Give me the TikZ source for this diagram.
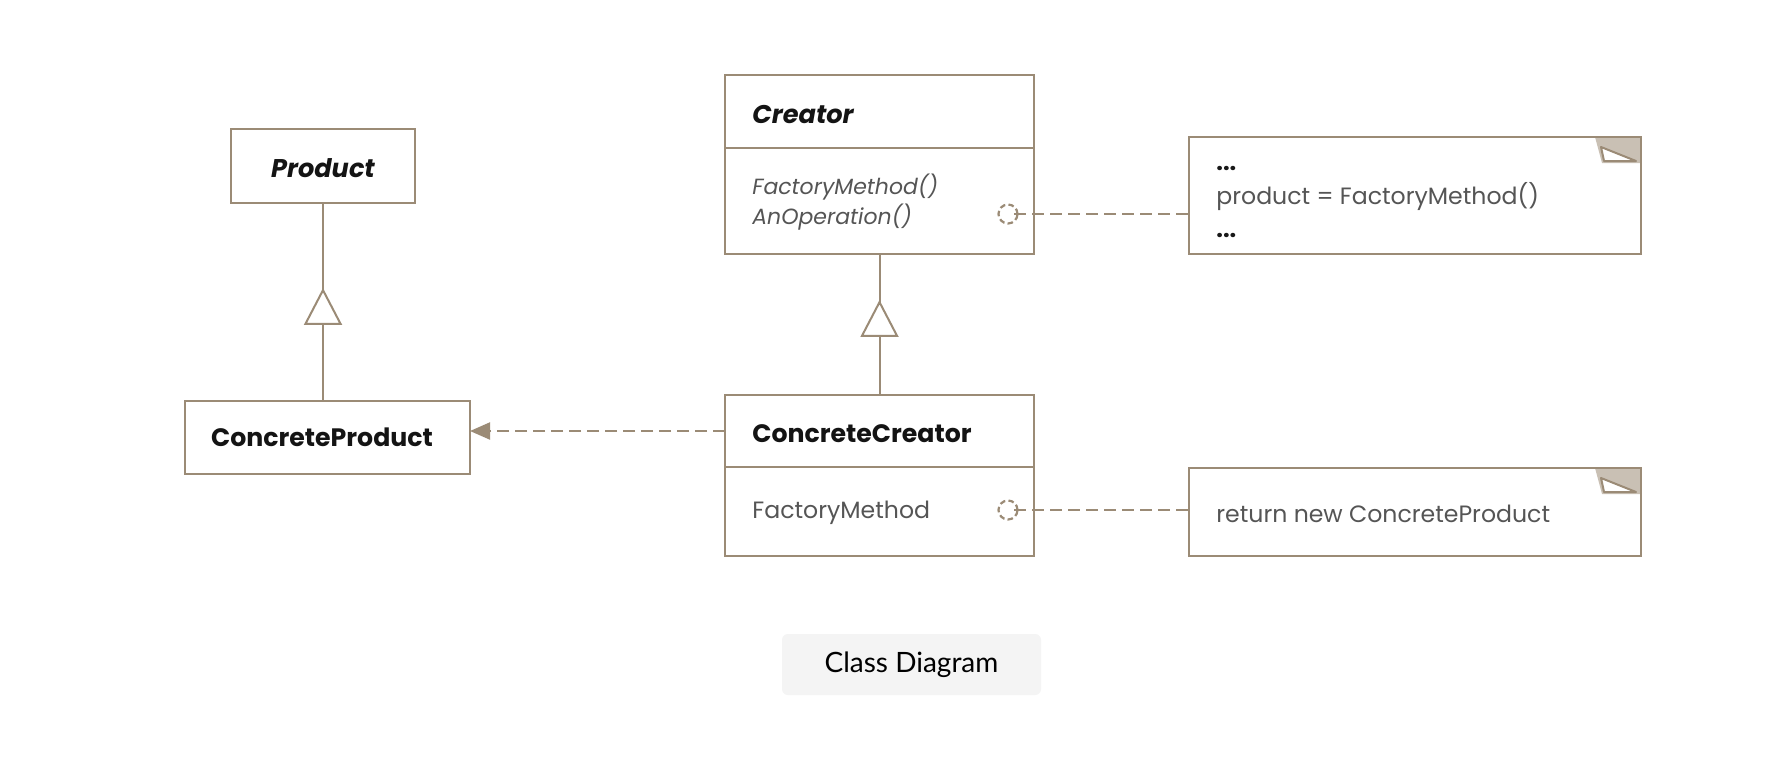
\documentclass[tikz,border=0pt]{standalone}
\usepackage{fontspec}
\setmainfont{Poppins}
\newfontfamily\btnfont{Lato}
\usetikzlibrary{arrows.meta,decorations.markings}
\definecolor{ln}{HTML}{9B8B76}
\definecolor{foldc}{HTML}{C9C0B4}
\definecolor{txt}{HTML}{555555}
\definecolor{btnc}{HTML}{F4F4F4}
\begin{document}
\begin{tikzpicture}[x=0.5pt,y=-0.5pt,
  box/.style={draw=ln, line width=1.4pt, fill=white, rectangle, inner sep=0pt, outer sep=0pt},
  ttl/.style={inner sep=0pt, text=black!92, font=\fontsize{12.6}{15}\selectfont\bfseries},
  ttli/.style={inner sep=0pt, text=black!92, font=\fontsize{12.8}{15}\selectfont\bfseries\itshape},
  mth/.style={inner sep=0pt, text=txt, font=\fontsize{11}{13}\selectfont\itshape},
  mtx/.style={inner sep=0pt, text=txt, font=\fontsize{11.8}{14}\selectfont},
  conn/.style={draw=ln, line width=1pt},
  dsh/.style={conn, dash pattern=on 6pt off 3pt},
  ring/.style={circle, draw=ln, line width=1.1pt, dash pattern=on 2.8pt off 1.6pt, minimum size=9.5pt, inner sep=0pt},
  gen/.style={postaction={decorate}, decoration={markings, mark=at position #1 with {\arrow{Triangle[length=18.5pt, width=19pt, fill=white, line width=1pt]}}}}
]
\useasboundingbox (0,0) rectangle (1786,760);
\fill[white] (0,0) rectangle (1786,760);

% class boxes
\node[box, minimum width=92pt, minimum height=37pt] (P) at (323,166) {};
\node[box, minimum width=142.5pt, minimum height=36.5pt] (CP) at (327.5,437.5) {};
\node[box, minimum width=154.5pt, minimum height=36.5pt] (Chead) at (879.5,111.5) {};
\node[box, minimum width=154.5pt, minimum height=53pt] (Cbody) at (879.5,201) {};
\node[box, minimum width=154.5pt, minimum height=36pt] (CChead) at (879.5,431) {};
\node[box, minimum width=154.5pt, minimum height=44.5pt] (CCbody) at (879.5,511.5) {};

% notes
\node[box, minimum width=226pt, minimum height=58.5pt] (N1) at (1415,195.5) {};
\node[box, minimum width=226pt, minimum height=44pt] (N2) at (1415,512) {};
\foreach \n in {N1,N2}{
  \fill[foldc] ([xshift=-23pt]\n.north east) -- (\n.north east) -- ([yshift=-13pt]\n.north east) -- ([xshift=-19.5pt,yshift=-13pt]\n.north east) -- cycle;
  \filldraw[fill=white, draw=ln, line width=1pt, line join=round] ([xshift=-20pt,yshift=-5pt]\n.north east) -- ([xshift=-18.5pt,yshift=-12pt]\n.north east) -- ([xshift=-2.5pt,yshift=-12pt]\n.north east) -- cycle;
  \draw[ln, line width=1.4pt] (\n.south west) rectangle (\n.north east);
}

% texts
\node[ttli, anchor=base] at (323,177) {Product};
\node[ttl, anchor=base] at (322,446) {ConcreteProduct};
\node[ttli, anchor=base west] at (752,123) {Creator};
\node[mth, anchor=base west] at (752,194) {FactoryMethod()};
\node[mth, anchor=base west] at (752,224) {AnOperation()};
\node[ttl, anchor=base west] at (752,442) {ConcreteCreator};
\node[mtx, anchor=base west] at (752,518) {FactoryMethod};
\node[mtx, anchor=base west, text=black!90] at (1216,170) {\textbf{...}};
\node[mtx, anchor=base west] at (1216,204) {product = FactoryMethod()};
\node[mtx, anchor=base west, text=black!90] at (1216,237) {\textbf{...}};
\node[mtx, anchor=base west] at (1216,522) {return new ConcreteProduct};

% rings
\node[ring] (O1) at (1008,214) {};
\node[ring] (O2) at (1008,510) {};

% connectors
\draw[conn, gen=0.571] (CP.north -| P.south) -- (P.south);
\draw[conn, gen=0.674] (CChead.north) -- (Cbody.south);
\draw[dsh, -{Triangle[length=10pt, width=8.5pt]}] (CChead.west) -- (CChead.west -| CP.east);
\draw[dsh] ([xshift=3pt]O1.center) -- (O1.center -| N1.west);
\draw[dsh] ([xshift=3pt]O2.center) -- (O2.center -| N2.west);

% caption button
\node[fill=btnc, rounded corners=3pt, minimum width=129.5pt, minimum height=30.5pt, inner sep=0pt] (btn) at (911.5,664.5) {\btnfont\fontsize{14}{16}\selectfont Class Diagram};
\end{tikzpicture}
\end{document}
